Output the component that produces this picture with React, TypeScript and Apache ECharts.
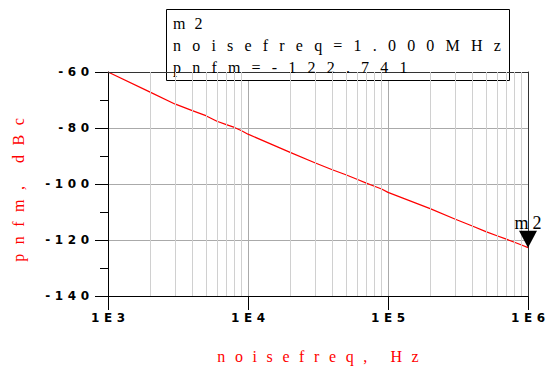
import React, { useEffect, useRef } from "react";
import * as echarts from "echarts";

// Data
const freqs = [
  1e3, 2e3, 3e3, 4e3, 5e3, 6e3, 7e3, 8e3, 9e3,
  1e4, 2e4, 3e4, 4e4, 5e4, 6e4, 7e4, 8e4, 9e4,
  1e5, 2e5, 3e5, 4e5, 5e5, 6e5, 7e5, 8e5, 9e5,
  1e6,
];
const pnfm = [
  -60.0, -67.2, -71.4, -73.8, -75.6, -77.6, -78.8, -79.8, -81.0,
  -82.2, -88.7, -92.4, -94.9, -96.7, -98.3, -99.7, -100.8, -101.8,
  -103.0, -108.8, -112.5, -115.0, -117.0, -118.5, -119.7, -120.8, -121.8,
  -122.741,
];
const minorGridFreqs = [
  2e3, 3e3, 4e3, 5e3, 6e3, 7e3, 8e3, 9e3,
  2e4, 3e4, 4e4, 5e4, 6e4, 7e4, 8e4, 9e4,
  2e5, 3e5, 4e5, 5e5, 6e5, 7e5, 8e5, 9e5,
];
const xMin = 1e3;
const xMax = 1e6;
const yMin = -140;
const yMax = -60;
const yInterval = 20;
const markerName = "m2";
const markerFreq = 1e6;
const markerValue = -122.741;
const markerBoxLines = ["m2", "noisefreq=1.000MHz", "pnfm=-122.741"];
const xName = "noisefreq, Hz";
const yName = "pnfm, dBc";

const tickFont = "DejaVu Sans";
const serifFont = "Liberation Serif";

function spacingFor(t: string, anchor: string): number {
  if (t === markerName) return anchor === "middle" ? 4 : 9;
  if (markerBoxLines.indexOf(t) >= 0) return 11.2;
  if (t === xName) return 9.6;
  if (t === yName) return 9.5;
  if (/^-?\d+$/.test(t) || /^1E\d$/.test(t)) return 4.6;
  return 0;
}

function applySpacing(root: HTMLElement) {
  const texts = root.querySelectorAll("text");
  texts.forEach((el) => {
    const t = (el.textContent || "").trim();
    const anchor = el.getAttribute("text-anchor") || "start";
    const s = spacingFor(t, anchor);
    if (!s) return;
    el.setAttribute("letter-spacing", s + "px");
    let dx = 0;
    if (anchor === "end") dx = s;
    else if (anchor === "middle") dx = s / 2;
    if (t === yName) dx -= 6;
    if (dx) el.setAttribute("dx", String(dx));
  });
}

export default function App() {
  const ref = useRef<HTMLDivElement>(null);
  useEffect(() => {
    if (!ref.current) return;
    const chart = echarts.init(ref.current, null, { renderer: "svg" });
    const option: any = {
      animation: false,
      backgroundColor: "#ffffff",
      grid: { left: 108, right: 22, top: 72, bottom: 72, show: false },
      xAxis: [
        {
          type: "log",
          logBase: 10,
          min: xMin,
          max: xMax,
          position: "bottom",
          z: 0,
          axisLine: { show: true, lineStyle: { color: "#000", width: 1 } },
          axisTick: { show: true, length: 14, lineStyle: { color: "#000" } },
          minorTick: { show: false },
          axisLabel: {
            formatter: (v: number) => "1E" + Math.round(Math.log10(v)),
            color: "#000",
            fontFamily: tickFont,
            fontWeight: "bold",
            fontSize: 12,
            margin: 16,
          },
          splitLine: { show: true, lineStyle: { color: "#aaaaaa", width: 1 } },
          name: xName,
          nameLocation: "middle",
          nameGap: 52,
          nameTextStyle: { color: "#ff0000", fontFamily: serifFont, fontSize: 16 },
        },
        {
          type: "log",
          logBase: 10,
          min: xMin,
          max: xMax,
          position: "top",
          z: 4,
          axisLine: { show: true, lineStyle: { color: "#333", width: 1 } },
          axisTick: { show: false },
          axisLabel: { show: false },
          splitLine: { show: false },
        },
      ],
      yAxis: [
        {
          type: "value",
          min: yMin,
          max: yMax,
          interval: yInterval,
          position: "left",
          z: 0,
          axisLine: { show: true, lineStyle: { color: "#000", width: 1 } },
          axisTick: { show: true, length: 13, lineStyle: { color: "#000" } },
          minorTick: { show: true, splitNumber: 2, length: 8, lineStyle: { color: "#000" } },
          axisLabel: {
            color: "#000",
            fontFamily: tickFont,
            fontWeight: "bold",
            fontSize: 12,
            margin: 19,
          },
          splitLine: { show: true, lineStyle: { color: "#aaaaaa", width: 1 } },
          name: yName,
          nameLocation: "middle",
          nameRotate: 90,
          nameGap: 82,
          nameTextStyle: { color: "#ff0000", fontFamily: serifFont, fontSize: 16 },
        },
        {
          type: "value",
          min: yMin,
          max: yMax,
          interval: yInterval,
          position: "right",
          z: 4,
          axisLine: { show: true, lineStyle: { color: "#333", width: 1 } },
          axisTick: { show: false },
          axisLabel: { show: false },
          splitLine: { show: false },
        },
      ],
      series: [
        {
          type: "line",
          xAxisIndex: 0,
          yAxisIndex: 0,
          data: [],
          z: 0,
          silent: true,
          markLine: {
            silent: true,
            symbol: ["none", "none"],
            label: { show: false },
            lineStyle: { color: "#d0d0d0", type: "solid", width: 1 },
            emphasis: { disabled: true },
            data: minorGridFreqs.map((f) => ({ xAxis: f })),
          },
        },
        {
          type: "line",
          xAxisIndex: 0,
          yAxisIndex: 0,
          z: 3,
          showSymbol: false,
          symbol: "none",
          silent: true,
          lineStyle: { color: "#ff0000", width: 1.2 },
          data: freqs.map((f, i) => [f, pnfm[i]]),
          markPoint: {
            silent: true,
            symbol: "triangle",
            symbolSize: [18, 17],
            symbolRotate: 180,
            symbolOffset: [0, "-50%"],
            itemStyle: { color: "#000" },
            label: {
              show: true,
              formatter: markerName,
              position: "top",
              distance: -1,
              color: "#000",
              fontFamily: serifFont,
              fontSize: 18,
            },
            data: [{ coord: [markerFreq, markerValue] }],
          },
        },
      ],
      graphic: [
        {
          type: "rect",
          z: 1,
          silent: true,
          shape: { x: 166.5, y: 9.5, width: 343, height: 71 },
          style: { fill: "#ffffff", stroke: "#000", lineWidth: 1 },
        },
        ...markerBoxLines.map((t, i) => ({
          type: "text",
          z: 5,
          silent: true,
          x: 173,
          y: 23 + i * 22,
          style: {
            text: t,
            fill: "#000",
            font: "16px 'Liberation Serif'",
            textAlign: "left",
            textVerticalAlign: "middle",
          },
        })),
      ],
    };
    chart.setOption(option);
    applySpacing(ref.current);
    chart.on("finished", () => {
      if (ref.current) applySpacing(ref.current);
    });
    return () => chart.dispose();
  }, []);
  return (
    <div
      ref={ref}
      style={{ position: "fixed", left: 0, top: 0, width: 550, height: 369 }}
    />
  );
}
